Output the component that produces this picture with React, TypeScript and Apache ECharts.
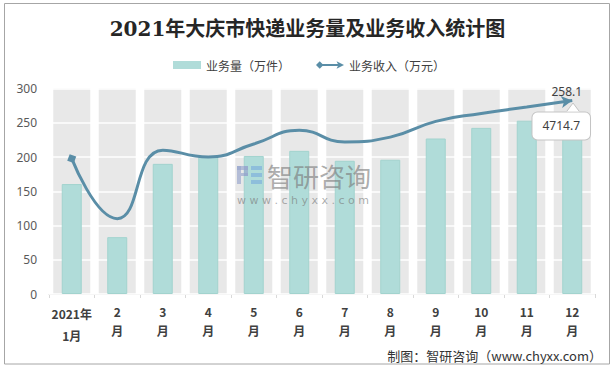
import React, { useEffect, useRef } from "react";
import * as echarts from "echarts";

const titleText = "2021年大庆市快递业务量及业务收入统计图";
const sourceText = "制图：智研咨询（www.chyxx.com）";
const seriesNames = ["业务量（万件）", "业务收入（万元）"];
const categories = ["2021年1月", "2月", "3月", "4月", "5月", "6月", "7月", "8月", "9月", "10月", "11月", "12月"];
// 业务量（万件）
const volume = [160.5, 83, 190, 200, 201.5, 209, 194.5, 196, 227, 242.5, 253, 230];
// 业务收入（万元）— plotted on a hidden secondary axis
const revenue = [180.5, 100.5, 191.8, 182.7, 200, 218.3, 202.8, 209.2, 230.2, 240.7, 249.3, 258.1];
const decCallout = "4714.7";
const yMin = 0;
const yMax = 300;
const yInterval = 50;
const revenueAxisMax = 274;

const LINE_COLOR = "#5a8ea7";
const BAR_COLOR = "#b0dcd9";
const WM_GRAY = "rgba(120,120,120,0.62)";
const WM_LOGO1 = "rgba(150,165,205,0.65)";
const WM_LOGO2 = "rgba(120,170,220,0.6)";

export default function App() {
  const ref = useRef<HTMLDivElement>(null);
  useEffect(() => {
    if (!ref.current) return;
    const chart = echarts.init(ref.current, null, { renderer: "svg" });
    const last = revenue.length - 1;
    const lineData = revenue.map((v, i) => {
      if (i === 0) return { value: v, symbol: "rect", symbolSize: 7, symbolRotate: -20 };
      if (i === last)
        return {
          value: v,
          symbol: "arrow",
          symbolSize: [9, 11],
          symbolRotate: -82,
          label: {
            show: true,
            position: "top",
            offset: [0, 8],
            color: "#404040",
            fontSize: 12,
            fontFamily: "'Noto Sans', sans-serif",
          },
        };
      return { value: v, symbol: "none" };
    });
    const barData = volume.map((v, i) => {
      if (i === volume.length - 1)
        return {
          value: v,
          label: {
            show: true,
            position: "top",
            offset: [-11, 8],
            formatter: decCallout,
            backgroundColor: "#fff",
            borderColor: "#c4c4c4",
            borderWidth: 1,
            borderRadius: 5,
            padding: [6, 10],
            lineHeight: 15,
            color: "#404040",
            fontSize: 12,
            fontFamily: "'Noto Sans', sans-serif",
          },
        };
      return v;
    });
    const lineIcon =
      "path://M0,4L4,0L8,4L4,8Z M7,3L24,3L24,5L7,5Z M22,0L30,4L22,8L24,4Z";
    const logoRect = (x: number, y: number, w: number, h: number, fill: string) => ({
      type: "rect",
      z: 10,
      silent: true,
      shape: { x, y, width: w, height: h },
      style: { fill },
    });
    chart.setOption({
      animation: false,
      title: {
        text: titleText,
        left: "center",
        top: 14,
        textStyle: {
          fontSize: 20,
          fontWeight: "bold",
          color: "#262626",
          fontFamily: "'DejaVu Serif', 'Noto Sans CJK SC', serif",
        },
      },
      legend: {
        top: 54,
        left: 168,
        itemWidth: 28,
        itemHeight: 8,
        itemGap: 26,
        textStyle: { fontSize: 12, color: "#404040", fontFamily: "'Noto Sans CJK SC', sans-serif" },
        data: [
          { name: seriesNames[0], icon: "rect", itemStyle: { color: BAR_COLOR, borderWidth: 0 } },
          { name: seriesNames[1], icon: lineIcon, itemStyle: { color: LINE_COLOR } },
        ],
      },
      grid: { left: 49, right: 20, top: 88.5, bottom: 75, containLabel: false },
      xAxis: [
        {
          type: "category",
          data: categories,
          axisLine: { lineStyle: { color: "#d9d9d9", width: 1 } },
          axisTick: { show: true, length: 4, lineStyle: { color: "#d9d9d9" } },
          axisLabel: {
            interval: 0,
            margin: 8,
            fontSize: 12,
            fontWeight: "bold",
            color: "#404040",
            lineHeight: 19,
            fontFamily: "'Noto Sans CJK SC', sans-serif",
            formatter: (v: string, i: number) => {
              if (i === 0) {
                const k = v.indexOf("年") + 1;
                return "{f|" + v.slice(0, k) + "}\n{f|" + v.slice(k) + "}";
              }
              return v.replace("月", "") + "\n月";
            },
            rich: {
              f: { lineHeight: 22, fontSize: 12, fontWeight: "bold", color: "#404040" },
            },
          },
        },
        {
          type: "category",
          data: categories,
          show: false,
        },
      ],
      yAxis: [
        {
          type: "value",
          min: yMin,
          max: yMax,
          interval: yInterval,
          z: 1,
          axisLine: { show: false },
          axisTick: { show: false },
          axisLabel: { margin: 12, fontSize: 12, color: "#595959", fontFamily: "'Noto Sans', sans-serif" },
          splitLine: { lineStyle: { color: "#ffffff", width: 1.5 } },
        },
        {
          type: "value",
          min: 0,
          max: revenueAxisMax,
          show: false,
          splitLine: { show: false },
        },
      ],
      series: [
        {
          name: "band",
          type: "bar",
          xAxisIndex: 1,
          data: volume,
          barWidth: 37,
          z: 0,
          silent: true,
          itemStyle: { color: "rgba(0,0,0,0)" },
          showBackground: true,
          backgroundStyle: { color: "#e8e8e8" },
          legendHoverLink: false,
        },
        {
          name: seriesNames[0],
          type: "bar",
          data: barData,
          barWidth: 20,
          z: 2,
          itemStyle: { color: BAR_COLOR, borderColor: "#a2d3ce", borderWidth: 1 },
        },
        {
          name: seriesNames[1],
          type: "line",
          yAxisIndex: 1,
          data: lineData,
          smooth: 0.5,
          z: 3,
          lineStyle: { color: LINE_COLOR, width: 3 },
          itemStyle: { color: LINE_COLOR },
        },
      ],
      graphic: [
        {
          type: "rect",
          shape: { x: 4.5, y: 3.5, width: 605, height: 360.5 },
          style: { fill: "none", stroke: "#a6a6a6", lineWidth: 1 },
          silent: true,
        },
        logoRect(237, 166, 11, 4, WM_LOGO1),
        logoRect(237, 166, 4, 18, WM_LOGO1),
        logoRect(244, 166, 4, 10, WM_LOGO1),
        logoRect(241, 173, 7, 3, WM_LOGO1),
        logoRect(251, 166, 11, 4, WM_LOGO2),
        logoRect(251, 173, 11, 4, WM_LOGO2),
        logoRect(251, 180, 11, 4, WM_LOGO2),
        {
          type: "text",
          z: 10,
          silent: true,
          x: 267,
          y: 175,
          style: {
            text: "智研咨询",
            fill: WM_GRAY,
            font: "26px 'Noto Sans CJK SC', sans-serif",
            lineHeight: 26,
            textVerticalAlign: "middle",
          },
        },
        {
          type: "text",
          z: 10,
          silent: true,
          x: 237,
          y: 200,
          style: {
            text: "w w w . c h y x x . c o m",
            fill: WM_GRAY,
            font: "11px 'DejaVu Sans', sans-serif",
            lineHeight: 12,
            textVerticalAlign: "middle",
          },
        },
        {
          type: "polygon",
          silent: true,
          z: 20,
          shape: { points: [[567, 111.5], [573, 103], [579, 111.5]] },
          style: { fill: "#fff" },
        },
        {
          type: "polyline",
          silent: true,
          z: 21,
          shape: { points: [[567, 111], [573, 103], [579, 111]] },
          style: { stroke: "#c4c4c4", lineWidth: 1, fill: "none" },
        },
        {
          type: "text",
          right: 13,
          top: 349,
          silent: true,
          style: {
            text: sourceText,
            fill: "#333",
            font: "13px 'Noto Sans CJK SC', sans-serif",
          },
        },
      ],
    });
    return () => chart.dispose();
  }, []);
  return (
    <div
      ref={ref}
      style={{ position: "fixed", left: 0, top: 0, width: 615, height: 369, background: "#fff" }}
    />
  );
}
